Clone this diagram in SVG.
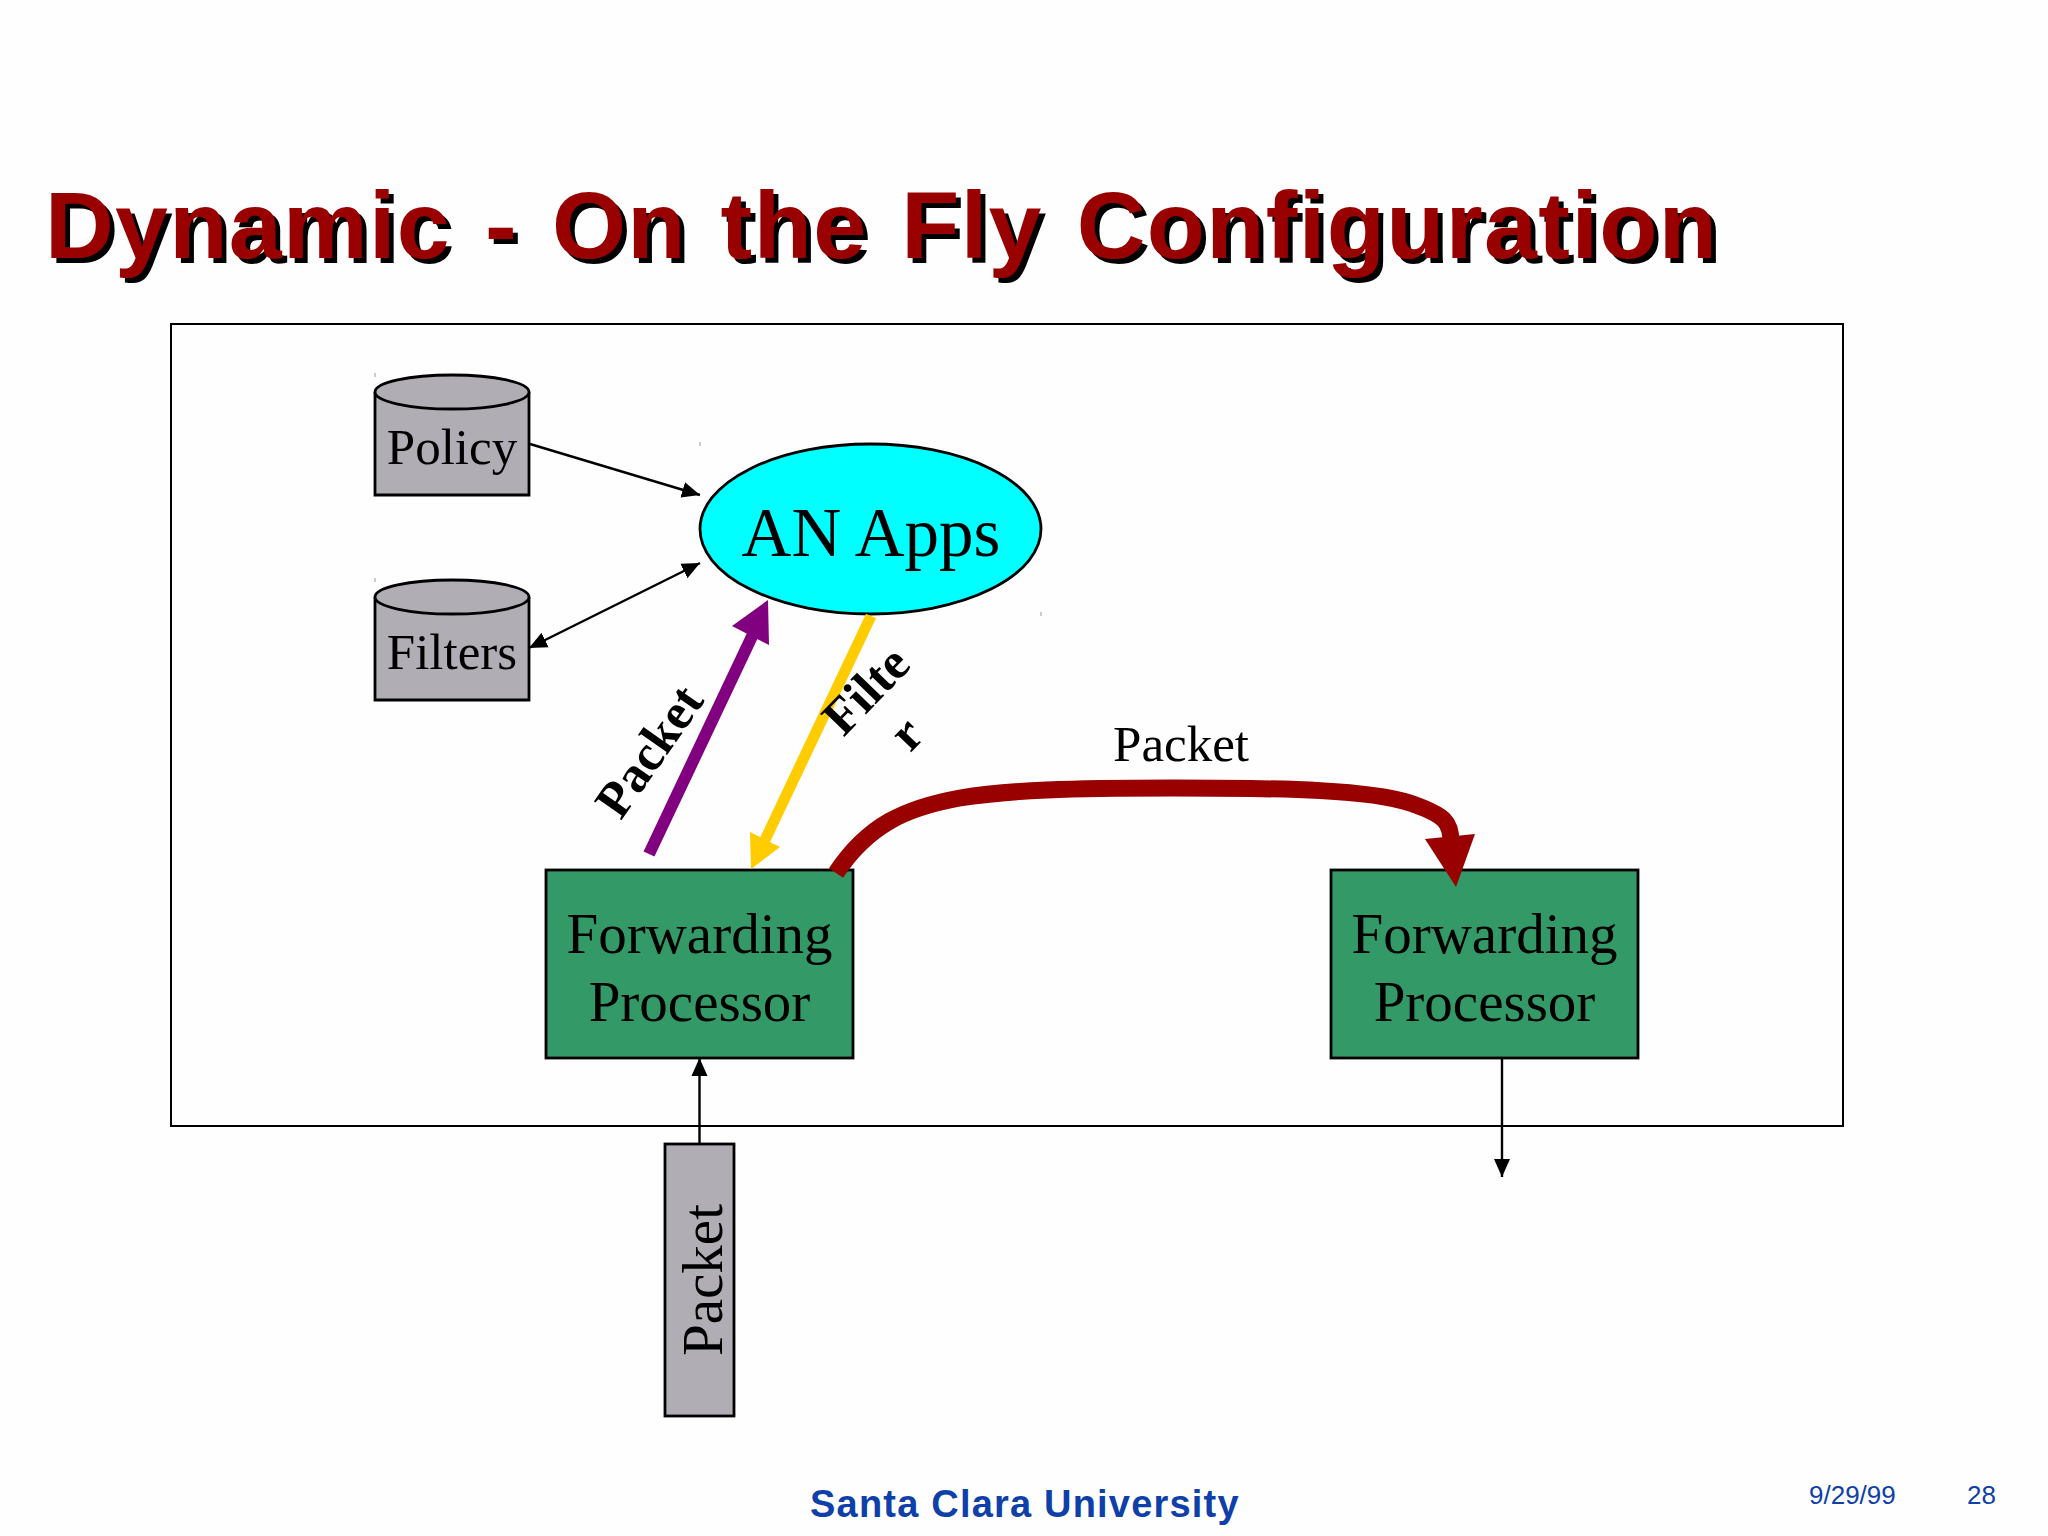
<svg xmlns="http://www.w3.org/2000/svg" width="2048" height="1536" viewBox="0 0 2048 1536">
<style>
.s{font-family:"Liberation Serif","Times New Roman",serif;fill:#000}
.b{font-weight:bold}
.c{text-anchor:middle}
.t{font-family:"Liberation Sans",Arial,sans-serif;font-weight:bold;font-size:95px;letter-spacing:1.45px;word-spacing:6px;fill:#990000}
.f{font-family:"Liberation Sans",Arial,sans-serif;fill:#0f3fa8}
.box{stroke:#000;stroke-width:2.8}
.g{fill:#b0aeb4}
.fp{fill:#339966}
.thin{fill:none;stroke:#000;stroke-width:2.4}
.tick{stroke:#999;stroke-width:1}
</style>
<defs>
<marker id="ah" markerUnits="userSpaceOnUse" markerWidth="20" markerHeight="20" refX="18" refY="10" orient="auto-start-reverse"><path d="M0,2L18,10L0,18Z" fill="#000"/></marker>
<filter id="shadow" x="-2%" y="-20%" width="104%" height="140%"><feDropShadow dx="5" dy="5" stdDeviation="0" flood-color="#000"/></filter>
</defs>
<rect width="2048" height="1536" fill="#fefefe"/>
<g id="title">
<text class="t" x="45" y="258" filter="url(#shadow)">Dynamic - On the Fly Configuration</text>
</g>
<rect id="frame" x="171" y="324" width="1672" height="802" fill="none" stroke="#000" stroke-width="2"/>
<g id="policy">
<path class="box g" d="M375,392V495H529V392"/>
<ellipse class="box g" cx="452" cy="392" rx="77" ry="17"/>
<text class="s c" x="452" y="464" font-size="51">Policy</text>
</g>
<g id="filters">
<path class="box g" d="M375,597V700H529V597"/>
<ellipse class="box g" cx="452" cy="597" rx="77" ry="17"/>
<text class="s c" x="452" y="669" font-size="51">Filters</text>
</g>
<g id="an-apps">
<ellipse class="box" cx="870.500" cy="529" rx="170.500" ry="85" fill="#00ffff"/>
<text class="s c" x="871" y="556" font-size="69">AN Apps</text>
</g>
<g id="fp1">
<rect class="box fp" x="546" y="870" width="307" height="188"/>
<text class="s c" x="699.500" y="953" font-size="57">Forwarding</text>
<text class="s c" x="699.500" y="1021" font-size="57">Processor</text>
</g>
<g id="fp2">
<rect class="box fp" x="1331" y="870" width="307" height="188"/>
<text class="s c" x="1484.500" y="953" font-size="57">Forwarding</text>
<text class="s c" x="1484.500" y="1021" font-size="57">Processor</text>
</g>
<g id="packet-box">
<rect class="box g" x="665" y="1144" width="69" height="272"/>
<text class="s c" transform="translate(722,1280) rotate(-90)" font-size="57">Packet</text>
</g>
<g id="connectors">
<path class="thin" d="M530,444L700,495" marker-end="url(#ah)"/>
<path class="thin" d="M529,648L700,563" marker-start="url(#ah)" marker-end="url(#ah)"/>
<path class="thin" d="M699.500,1144V1058" marker-end="url(#ah)"/>
<path class="thin" d="M1502,1058V1177" marker-end="url(#ah)"/>
<path d="M649,854L755,630" fill="none" stroke="#800080" stroke-width="12"/>
<path d="M768,600L732,626L769,645Z" fill="#800080"/>
<path d="M871,616L765,840" fill="none" stroke="#ffcc00" stroke-width="11"/>
<path d="M751,869L750,832L780,847Z" fill="#ffcc00"/>
<path d="M836,873C868,825 905,808 960,798C1010,790 1070,788 1173,788C1290,788 1370,790 1410,803C1445,815 1451,822 1451,842" fill="none" stroke="#990000" stroke-width="17"/>
<path d="M1425,839L1475,834L1456,887Z" fill="#990000"/>
</g>
<g id="labels">
<text class="s b c" transform="translate(663,761) rotate(-55)" font-size="51">Packet</text>
<text class="s b c" transform="translate(878,702) rotate(-46)" font-size="51">Filte</text>
<text class="s b c" transform="translate(918,745) rotate(-46)" font-size="51">r</text>
<text class="s c" x="1181" y="761" font-size="51">Packet</text>
</g>
<g id="footer">
<text class="f b" x="810" y="1517" font-size="38" letter-spacing="1.2">Santa Clara University</text>
<text class="f" x="1809" y="1504" font-size="26">9/29/99</text>
<text class="f" x="1967" y="1504" font-size="26">28</text>
</g>
<g id="ticks">
<path class="tick" d="M375,373v4M375,578v4M700,442v4M1041,612v4"/>
</g>
</svg>
